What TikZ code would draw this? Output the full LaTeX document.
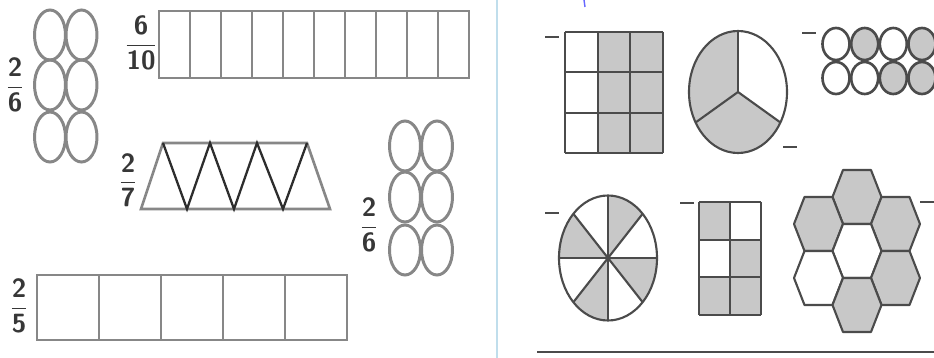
\documentclass[tikz,border=0pt]{standalone}
\usetikzlibrary{calc}
\usepackage{amsmath}
\definecolor{sepblue}{RGB}{192,222,236}
\definecolor{rimgray}{RGB}{135,135,135}
\definecolor{inkgray}{RGB}{75,75,75}
\definecolor{fillgray}{RGB}{200,200,200}
\definecolor{textgray}{RGB}{55,55,55}
\newcommand{\fr}[2]{$\dfrac{\text{\sffamily\bfseries #1}}{\text{\sffamily\bfseries #2}}$}
\tikzset{
  oval/.style     = {draw=rimgray,line width=1.7pt},
  strip/.style    = {draw=rimgray,line width=1.5pt},
  zig/.style      = {draw=inkgray!60!black,line width=1.3pt,line join=miter},
  frac/.style     = {font=\fontsize{15}{18}\selectfont,text=textgray,inner sep=0pt},
  cellline/.style = {draw=inkgray,line width=1pt},
  blank/.style    = {draw=inkgray,line width=1.1pt},
  rim/.style      = {draw=inkgray,line width=1.2pt},
}

\begin{document}
\begin{tikzpicture}[x=0.02cm,y=-0.02cm]
  \clip (0,0) rectangle (934,358);
  \fill[white] (0,0) rectangle (934,358);

  % left half: circles, strips, trapezoid
  \node[frac] (f26a) at (15,85)  {\fr{2}{6}};
  \node[frac] (f610) at (141,43) {\fr{6}{10}};
  \node[frac] (f27)  at (128,180) {\fr{2}{7}};
  \node[frac] (f26b) at (369,225) {\fr{2}{6}};
  \node[frac] (f25)  at (19,306) {\fr{2}{5}};

  \foreach \cx/\cy in {50/35,81.5/35,50/85,81.5/85,50/137,81.5/137,
                       405/146,437/146,405/197,437/197,405/250,437/250}
    \draw[oval] (\cx,\cy) ellipse [x radius=15.5,y radius=25];

  \draw[strip] (159,11) rectangle (469,78);
  \foreach \i in {1,...,9}
    \draw[strip] (159+31*\i,11) -- (159+31*\i,78);

  \draw[strip] (37,275) rectangle (347,340);
  \foreach \i in {1,...,4}
    \draw[strip] (37+62*\i,275) -- (37+62*\i,340);

  \draw[strip] (141,209) -- (163,143) -- (307,143) -- (330,209) -- cycle;
  \draw[zig] (163,143) -- (187,209) -- (210,143) -- (234,209)
             -- (257,143) -- (283,209) -- (307,143);

  % separator
  \draw[sepblue,line width=1.7pt] (497,0) -- (497,358);
  \draw[blue!60,line width=0.8pt] (584,0) -- (585,7);

  % right half: blanks
  \foreach \x/\y in {545/37,783/147,802/33,545/213,680/203,920/202}
    \draw[blank] (\x,\y) -- ++(14,0);

  % 3x3 grid
  \fill[fillgray] (597.7,32) rectangle (663,153);
  \foreach \i in {0,...,3}{
    \draw[cellline] (565+32.67*\i,32) -- ++(0,121);
    \draw[cellline] (565,32+40.33*\i) -- ++(98,0);
  }

  % pie in thirds
  \coordinate (pie) at (738,92);
  \begin{scope}
    \clip (pie) ellipse [x radius=49,y radius=61];
    \fill[fillgray] (pie) -- +(30:98 and 122) -- +(90:98 and 122)
      -- +(150:98 and 122) -- +(210:98 and 122) -- +(270:98 and 122) -- cycle;
  \end{scope}
  \draw[rim] (pie) ellipse [x radius=49,y radius=61];
  \foreach \a in {30,150,270}
    \draw[rim] (pie) -- +(\a:49 and 61);

  % 2x4 circles
  \foreach \x/\y/\f in {836/44/white,864.7/44/fillgray,893.3/44/white,922/44/fillgray,
                        836/78/white,864.7/78/white,893.3/78/fillgray,922/78/fillgray}
    \draw[rim,line width=1.5pt,fill=\f] (\x,\y) ellipse [x radius=13.5,y radius=16];

  % wheel in eighths
  \coordinate (wheel) at (608,258);
  \begin{scope}
    \clip (wheel) ellipse [x radius=49,y radius=62.5];
    \foreach \a in {0,90,180,270}
      \fill[fillgray] (wheel) -- +(\a:98 and 125) -- +(\a+22.5:98 and 125)
        -- +(\a+45:98 and 125) -- cycle;
  \end{scope}
  \draw[rim] (wheel) ellipse [x radius=49,y radius=62.5];
  \foreach \a in {0,45,...,315}
    \draw[rim] (wheel) -- +(\a:49 and 62.5);
  \fill[inkgray] (wheel) circle [radius=2.5];

  % 2x3 grid
  \foreach \c/\r in {0/0,1/1,0/2,1/2}
    \fill[fillgray] (699+31*\c,202+37.67*\r) rectangle ++(31,37.67);
  \foreach \i in {0,...,2}
    \draw[cellline] (699+31*\i,202) -- ++(0,113);
  \foreach \j in {0,...,3}
    \draw[cellline] (699,202+37.67*\j) -- ++(62,0);

  % hexagon flower
  \foreach \hx/\hy/\f in {857/197/fillgray,818.5/224/fillgray,895.5/224/fillgray,
                          857/251/white,818.5/278/white,895.5/278/fillgray,857/305/fillgray}
    \draw[rim,fill=\f,line join=round] (\hx-24.5,\hy) -- (\hx-14,\hy-27) -- (\hx+14,\hy-27)
      -- (\hx+24.5,\hy) -- (\hx+14,\hy+27) -- (\hx-14,\hy+27) -- cycle;

  \draw[inkgray,line width=1.7pt] (537,352) -- (934,352);
\end{tikzpicture}
\end{document}
